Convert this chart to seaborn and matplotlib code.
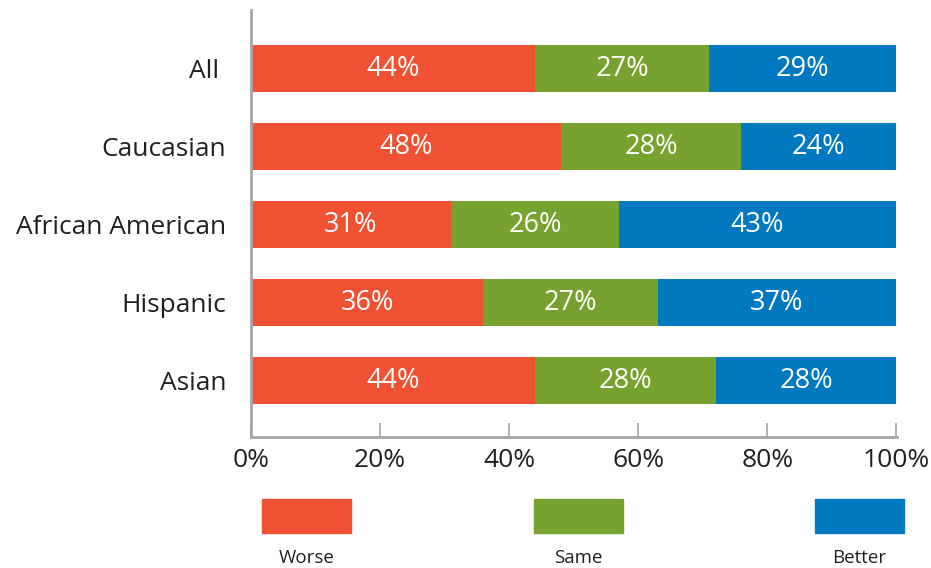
import matplotlib
matplotlib.use("Agg")
import matplotlib.pyplot as plt
import matplotlib.patches as mpatches
import seaborn as sns
import pandas as pd
import numpy as np

sns.set_theme(style="white")
plt.rcParams["font.family"] = ["Open Sans", "DejaVu Sans"]

groups = ["All", "Caucasian", "African American", "Hispanic", "Asian"]
worse = [44, 48, 31, 36, 44]
same = [27, 28, 26, 27, 28]
better = [29, 24, 43, 37, 28]
series_names = ["Worse", "Same", "Better"]
colors = ["#F05133", "#78A22F", "#0079C1"]
xticks = [0, 20, 40, 60, 80, 100]

df = pd.DataFrame({"group": groups, "Worse": worse, "Same": same, "Better": better})
long = df.melt(id_vars="group", var_name="response", value_name="pct")
long["response"] = pd.Categorical(long["response"], series_names, ordered=True)
long = long.sort_values(["group", "response"])
long["end"] = long.groupby("group")["pct"].cumsum()

fig = plt.figure(figsize=(9.31, 5.68), dpi=100)
ax = fig.add_axes([251 / 931, 1 - 437 / 568, 646 / 931, 427 / 568])

# stacked bars: draw cumulative totals from the widest segment down
for name, color in reversed(list(zip(series_names, colors))):
    sub = long[long["response"] == name].set_index("group").loc[groups].reset_index()
    sns.barplot(data=sub, x="end", y="group", order=groups, color=color,
                orient="h", width=0.6, saturation=1, ax=ax, edgecolor="none")

for _, row in long.iterrows():
    i = groups.index(row["group"])
    ax.text(row["end"] - row["pct"] / 2, i, f"{int(row['pct'])}%", ha="center",
            va="center", color="white", fontsize=19.5)

ax.set_xlim(0, 100.1)
ax.set_ylim(4.72, -0.75)
ax.set_xticks(xticks)
ax.set_xticklabels([f"{t}%" for t in xticks], fontsize=19, color="#231F20")
ax.set_yticks(range(len(groups)))
ax.set_yticklabels([g + (" " if g == "All" else "") for g in groups],
                   fontsize=19, color="#231F20")
ax.set_xlabel("")
ax.set_ylabel("")
ax.tick_params(axis="x", direction="in", length=10, width=1.2, color="#A6A6A6",
               pad=8, bottom=True)
ax.tick_params(axis="y", length=0, pad=18)
for s in ["top", "right"]:
    ax.spines[s].set_visible(False)
for s in ["left", "bottom"]:
    ax.spines[s].set_color("#A6A6A6")
    ax.spines[s].set_linewidth(2)
ax.grid(False)

# legend swatches below the axis
legend_x = [262, 534, 815]
for x0, name, color in zip(legend_x, series_names, colors):
    fig.patches.append(mpatches.Rectangle((x0 / 931, 1 - 533 / 568), 89 / 931, 34 / 568,
                                          transform=fig.transFigure, color=color))
    fig.text((x0 + 44.5) / 931, 1 - 558 / 568, name, ha="center", va="center",
             fontsize=13.5, color="#231F20")

fig.savefig("out.png", dpi=100)
